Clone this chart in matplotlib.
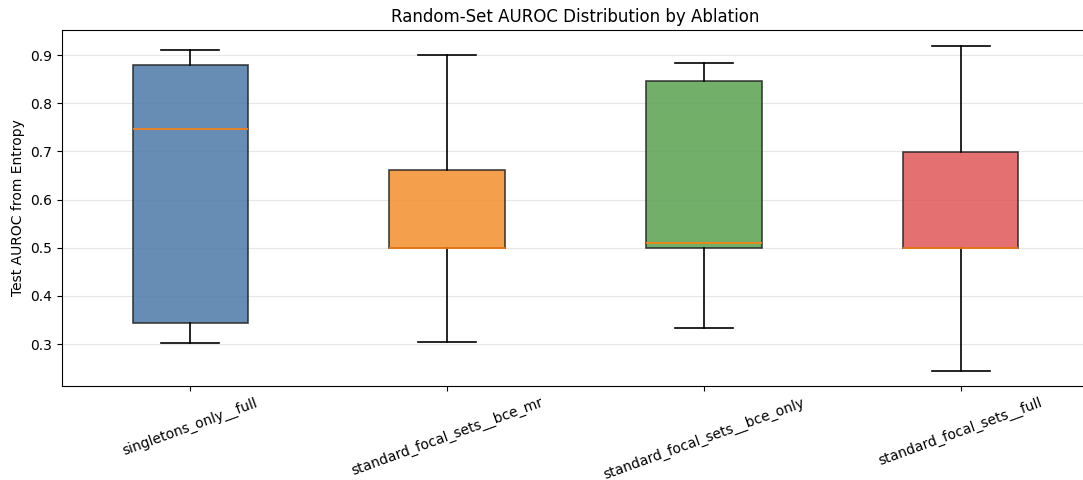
import matplotlib
matplotlib.use('Agg')
import matplotlib.pyplot as plt

# values
labels = ['singletons_only__full', 'standard_focal_sets__bce_mr',
          'standard_focal_sets__bce_only', 'standard_focal_sets__full']
whis_lo = [0.303, 0.305, 0.334, 0.244]
q1 = [0.344, 0.500, 0.500, 0.500]
med = [0.746, 0.500, 0.510, 0.500]
q3 = [0.879, 0.661, 0.846, 0.699]
whis_hi = [0.911, 0.900, 0.884, 0.918]
colors = ['#4e79a7', '#f28e2b', '#59a14f', '#e15759']

stats = []
for i in range(len(labels)):
    stats.append({'label': labels[i], 'whislo': whis_lo[i], 'q1': q1[i],
                  'med': med[i], 'q3': q3[i], 'whishi': whis_hi[i], 'fliers': []})

fig = plt.figure(figsize=(10.83, 4.8), dpi=100)
ax = fig.add_axes([62 / 1083, 94 / 480, 1027 / 1083, 356 / 480])

bp = ax.bxp(stats, positions=[1, 2, 3, 4], widths=0.45, patch_artist=True,
            showfliers=False,
            boxprops=dict(edgecolor='#222222', linewidth=1.2),
            whiskerprops=dict(color='black', linewidth=1.2),
            capprops=dict(color='black', linewidth=1.2),
            medianprops=dict(color='#ff7f0e', linewidth=1.2))
for patch, c in zip(bp['boxes'], colors):
    patch.set_facecolor(c)
    patch.set_alpha(0.85)

ax.set_xlim(0.5, 4.5)
ax.set_ylim(0.213, 0.952)
ax.set_ylabel('Test AUROC from Entropy')
ax.set_title('Random-Set AUROC Distribution by Ablation', fontsize=12)
ax.tick_params(axis='x', labelrotation=20)
ax.grid(axis='y', alpha=0.3)
ax.set_axisbelow(True)

fig.savefig('out.png', dpi=100)
